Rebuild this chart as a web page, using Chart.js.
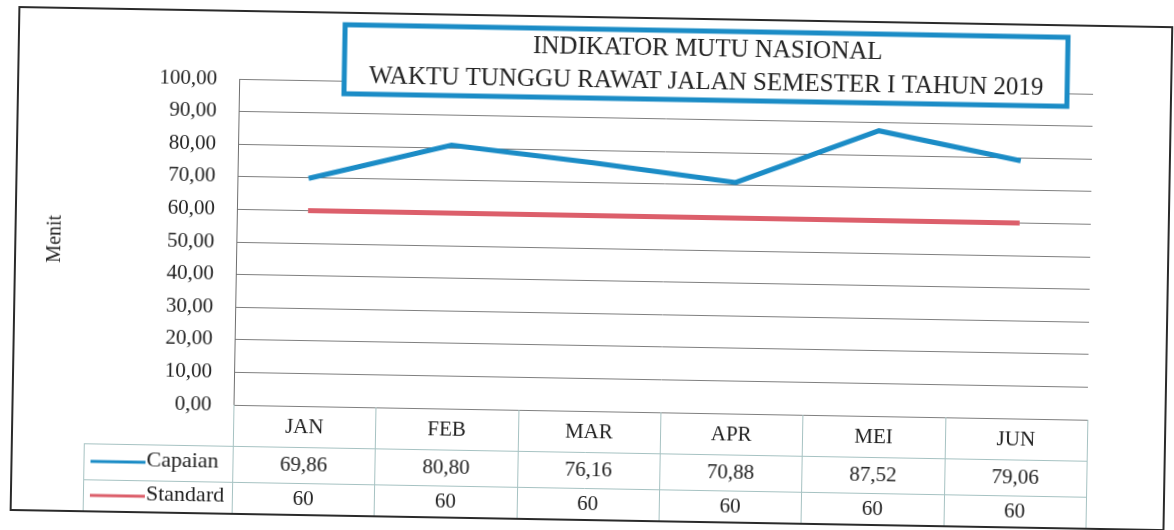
<!DOCTYPE html>
<html>
<head>
<meta charset="utf-8">
<script src="https://cdn.jsdelivr.net/npm/chart.js@4"></script>
<style>
  body { margin: 0; background: #fff; overflow: hidden; }
  /* the scanned original is tilted by about one degree */
  #wrap { width: 1174px; height: 530px; transform: rotate(1deg); }
</style>
</head>
<body>
<div id="wrap"><canvas id="lineChart" width="1174" height="530"></canvas></div>
<script>
const months = ["JAN", "FEB", "MAR", "APR", "MEI", "JUN"];
const capaian = [69.86, 80.80, 76.16, 70.88, 87.52, 79.06];
const standard = [60, 60, 60, 60, 60, 60];
const seriesNames = ["Capaian", "Standard"];
const titleLines = ["INDIKATOR MUTU NASIONAL", "WAKTU TUNGGU RAWAT JALAN SEMESTER I TAHUN 2019"];
const axisTitle = "Menit";

const BLUE = "#1b8cc6";
const RED = "#dc5f6b";
const FONT = "'Liberation Serif', 'DejaVu Serif', serif";

function fmt(v) {
  return Number.isInteger(v) ? String(v) : v.toFixed(2).replace(".", ",");
}

// data table, outer frame and title box (Excel style)
const tablePlugin = {
  id: "dataTable",
  afterDraw(chart) {
    const ctx = chart.ctx;
    const x = chart.scales.x;
    const area = chart.chartArea;
    const colW = (x.right - x.left) / months.length;
    const rows = [area.bottom, 452, 488, 520];
    const tableLeft = 87;

    ctx.save();
    ctx.strokeStyle = "#a6c2c2";
    ctx.lineWidth = 1;
    ctx.beginPath();
    for (let i = 0; i <= months.length; i++) {
      const cx = Math.round(x.left + i * colW) + 0.5;
      ctx.moveTo(cx, area.bottom);
      ctx.lineTo(cx, rows[3]);
    }
    ctx.moveTo(tableLeft + 0.5, rows[1]);
    ctx.lineTo(tableLeft + 0.5, rows[3]);
    ctx.moveTo(tableLeft, rows[1] + 0.5);
    ctx.lineTo(x.right, rows[1] + 0.5);
    ctx.moveTo(tableLeft, rows[2] + 0.5);
    ctx.lineTo(x.right, rows[2] + 0.5);
    ctx.stroke();

    ctx.fillStyle = "#222";
    ctx.font = "21px " + FONT;
    ctx.textAlign = "center";
    ctx.textBaseline = "middle";
    months.forEach((m, i) => {
      const cx = x.getPixelForValue(i);
      ctx.fillText(m, cx, (rows[0] + rows[1]) / 2 + 1);
      ctx.fillText(fmt(capaian[i]), cx, (rows[1] + rows[2]) / 2);
      ctx.fillText(fmt(standard[i]), cx, (rows[2] + rows[3]) / 2);
    });

    // legend keys in the table
    const colors = [BLUE, RED];
    ctx.font = "22px " + FONT;
    seriesNames.forEach((name, k) => {
      const cy = (rows[k + 1] + rows[k + 2]) / 2;
      ctx.strokeStyle = colors[k];
      ctx.lineWidth = 3;
      ctx.beginPath();
      ctx.moveTo(94, cy);
      ctx.lineTo(149, cy);
      ctx.stroke();
      ctx.textAlign = "left";
      ctx.fillText(name, 150, cy - 2);
    });

    // outer frame
    ctx.strokeStyle = "#2a2a2a";
    ctx.lineWidth = 2;
    ctx.strokeRect(15, 17, 1153, 503);

    // title box
    ctx.fillStyle = "#fff";
    ctx.fillRect(341, 29, 723, 69);
    ctx.strokeStyle = BLUE;
    ctx.lineWidth = 5;
    ctx.strokeRect(341, 29, 723, 69);
    ctx.fillStyle = "#222";
    ctx.font = "25px " + FONT;
    ctx.textAlign = "center";
    ctx.fillText(titleLines[0], 704, 47);
    ctx.fillText(titleLines[1], 703, 80);
    ctx.restore();
  }
};

const ctx = document.getElementById("lineChart").getContext("2d");
const myChart = new Chart(ctx, {
  type: "line",
  data: {
    labels: months,
    datasets: [
      {
        label: seriesNames[0],
        data: capaian,
        borderColor: BLUE,
        backgroundColor: BLUE,
        borderWidth: 5,
        pointRadius: 0,
      },
      {
        label: seriesNames[1],
        data: standard,
        borderColor: RED,
        backgroundColor: RED,
        borderWidth: 5,
        pointRadius: 0,
      },
    ],
  },
  options: {
    responsive: false,
    animation: false,
    layout: { padding: { top: 85, right: 84, bottom: 119, left: 0 } },
    plugins: {
      legend: { display: false },
      title: { display: false },
      tooltip: { enabled: false },
    },
    scales: {
      x: {
        display: false,
        offset: true,
      },
      y: {
        min: 0,
        max: 100,
        afterFit: (s) => { s.width = 236; },
        ticks: {
          stepSize: 10,
          padding: 22,
          color: "#222",
          font: { family: FONT, size: 21 },
          callback: (v) => v.toFixed(2).replace(".", ","),
        },
        grid: { color: "#7f7f7f", lineWidth: 1, drawTicks: false },
        border: { display: true, color: "#6f6f6f" },
        title: {
          display: true,
          text: axisTitle,
          color: "#222",
          font: { family: FONT, size: 20 },
          padding: { top: 43, bottom: 0 },
        },
      },
    },
  },
  plugins: [tablePlugin],
});
</script>
</body>
</html>
